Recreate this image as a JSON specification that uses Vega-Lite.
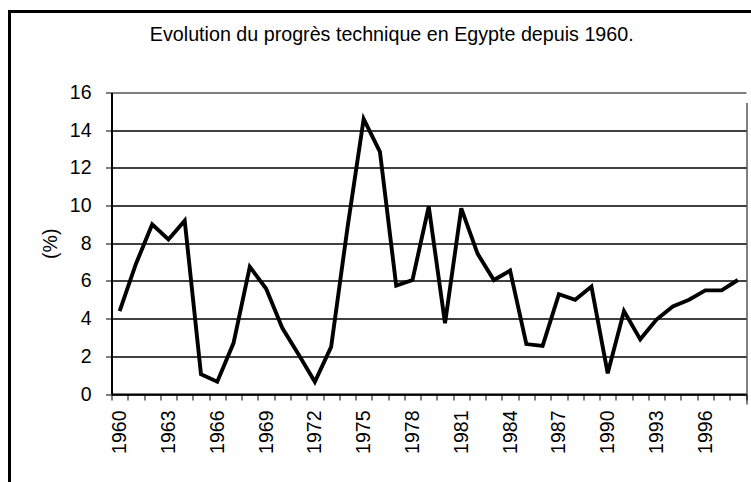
{
  "$schema": "https://vega.github.io/schema/vega-lite/v6.json",
  "width": 744.5,
  "height": 473.5,
  "autosize": {"type": "none"},
  "padding": {"left": 9.5, "top": 11.5, "right": -3, "bottom": -3},
  "background": "white",
  "config": {
    "view": {"stroke": "black", "strokeWidth": 3, "fill": "white"},
    "font": "Liberation Sans"
  },
  "title": {
    "text": "Evolution du progrès technique en Egypte depuis 1960.",
    "font": "Liberation Sans",
    "fontSize": 19.7,
    "fontWeight": "normal",
    "color": "black",
    "anchor": "middle",
    "frame": "group",
    "baseline": "alphabetic",
    "offset": 0,
    "dy": 49.5,
    "dx": 10
  },
  "data": {
    "values": [
      {"year": 1960, "value": 4.4},
      {"year": 1961, "value": 6.9},
      {"year": 1962, "value": 9.0},
      {"year": 1963, "value": 8.2},
      {"year": 1964, "value": 9.2},
      {"year": 1965, "value": 1.05},
      {"year": 1966, "value": 0.65},
      {"year": 1967, "value": 2.7},
      {"year": 1968, "value": 6.75},
      {"year": 1969, "value": 5.6},
      {"year": 1970, "value": 3.5},
      {"year": 1971, "value": 2.1},
      {"year": 1972, "value": 0.65},
      {"year": 1973, "value": 2.5},
      {"year": 1974, "value": 8.8},
      {"year": 1975, "value": 14.6},
      {"year": 1976, "value": 12.85},
      {"year": 1977, "value": 5.75},
      {"year": 1978, "value": 6.05},
      {"year": 1979, "value": 9.95},
      {"year": 1980, "value": 3.75},
      {"year": 1981, "value": 9.85},
      {"year": 1982, "value": 7.45},
      {"year": 1983, "value": 6.05},
      {"year": 1984, "value": 6.55},
      {"year": 1985, "value": 2.65},
      {"year": 1986, "value": 2.55},
      {"year": 1987, "value": 5.3},
      {"year": 1988, "value": 5.0},
      {"year": 1989, "value": 5.7},
      {"year": 1990, "value": 1.1},
      {"year": 1991, "value": 4.4},
      {"year": 1992, "value": 2.9},
      {"year": 1993, "value": 3.95},
      {"year": 1994, "value": 4.65},
      {"year": 1995, "value": 5.0},
      {"year": 1996, "value": 5.5},
      {"year": 1997, "value": 5.5},
      {"year": 1998, "value": 6.05}
    ]
  },
  "mark": {"type": "line", "color": "black", "strokeWidth": 3.9},
  "encoding": {
    "x": {
      "field": "year",
      "type": "quantitative",
      "scale": {"domain": [1959.5, 1998.5], "range": [102, 736.5], "nice": false, "zero": false},
      "axis": {
        "orient": "bottom",
        "offset": -91,
        "values": [1959.5, 1960.5, 1961.5, 1962.5, 1963.5, 1964.5, 1965.5, 1966.5, 1967.5, 1968.5, 1969.5, 1970.5, 1971.5, 1972.5, 1973.5, 1974.5, 1975.5, 1976.5, 1977.5, 1978.5, 1979.5, 1980.5, 1981.5, 1982.5, 1983.5, 1984.5, 1985.5, 1986.5, 1987.5, 1988.5, 1989.5, 1990.5, 1991.5, 1992.5, 1993.5, 1994.5, 1995.5, 1996.5, 1997.5, 1998.5],
        "labelExpr": "((datum.value + 0.5 - 1960) % 3 === 0 && datum.value < 1998) ? format(datum.value + 0.5, 'd') : ''",
        "labelAngle": 270,
        "labelOffset": 8.135,
        "labelPadding": 10,
        "labelFont": "Liberation Sans",
        "labelFontSize": 19.5,
        "labelColor": "black",
        "labelOverlap": false,
        "labelFlush": false,
        "labelBound": false,
        "ticks": true,
        "tickSize": 6,
        "tickColor": "black",
        "tickWidth": 1,
        "domainColor": "black",
        "domainWidth": 2,
        "grid": true,
        "gridColor": "#808080",
        "gridWidth": 2,
        "gridOpacity": {"condition": {"test": "datum.value === 1998.5", "value": 1}, "value": 0},
        "title": null
      }
    },
    "y": {
      "field": "value",
      "type": "quantitative",
      "scale": {"domain": [0, 16], "range": [382.5, 81], "nice": false},
      "axis": {
        "orient": "left",
        "offset": -102,
        "values": [0, 2, 4, 6, 8, 10, 12, 14, 16],
        "format": "d",
        "labelFont": "Liberation Sans",
        "labelFontSize": 19.5,
        "labelColor": "black",
        "labelPadding": 14.5,
        "tickSize": 6,
        "tickColor": "black",
        "tickWidth": 1,
        "domainColor": "black",
        "domainWidth": 2,
        "grid": true,
        "gridColor": {"condition": {"test": "datum.value === 16", "value": "#808080"}, "value": "black"},
        "gridWidth": {"condition": {"test": "datum.value === 16", "value": 2}, "value": 1.3},
        "title": "(%)",
        "titleFont": "Liberation Sans",
        "titleFontSize": 19.5,
        "titleFontWeight": "normal",
        "titleColor": "black",
        "titlePadding": 9
      }
    }
  }
}
